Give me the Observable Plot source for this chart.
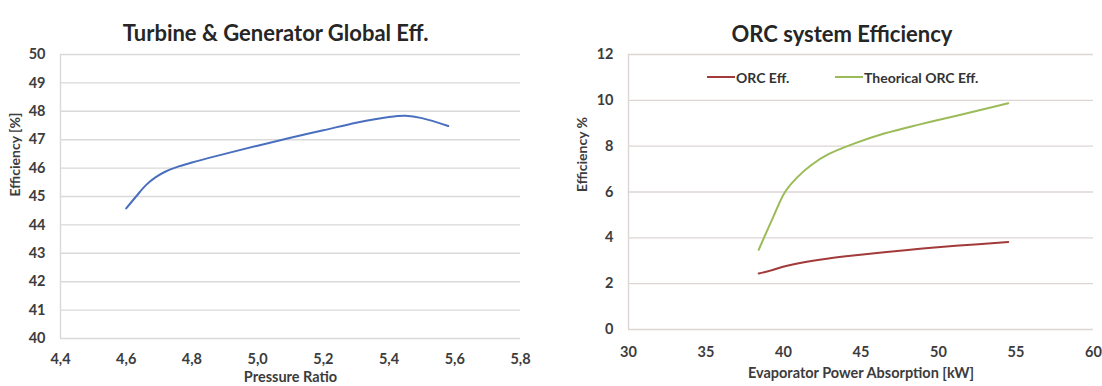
<!DOCTYPE html>
<html><head><meta charset="utf-8">
<script src="https://cdn.jsdelivr.net/npm/d3@7"></script>
<script src="https://cdn.jsdelivr.net/npm/@observablehq/plot@0.6"></script>
<style>
body{margin:0;background:#fff;font-family:Lato,sans-serif;}
#wrap{position:relative;width:1102px;height:386px;display:flex;overflow:hidden;}
.lg{position:absolute;top:69px;height:16px;display:flex;align-items:center;font:bold 14px Lato,sans-serif;color:#333;}
.lg span.sw{display:inline-block;width:28px;height:2px;margin-right:1px;}
</style></head><body><div id="wrap"></div>
<script>
// Left chart: Turbine & Generator Global Eff.
const pressureRatio = [4.60, 4.63, 4.66, 4.69, 4.72, 4.76, 4.80, 4.90, 5.00, 5.10, 5.20, 5.30, 5.40, 5.45, 5.50, 5.58];
const turbineEff    = [44.58, 45.00, 45.40, 45.68, 45.88, 46.06, 46.20, 46.50, 46.79, 47.07, 47.33, 47.60, 47.80, 47.84, 47.76, 47.48];
const leftXTicks = [4.4, 4.6, 4.8, 5.0, 5.2, 5.4, 5.6, 5.8];
const leftYTicks = [40, 41, 42, 43, 44, 45, 46, 47, 48, 49, 50];

// Right chart: ORC system Efficiency
const evapPower    = [38.4, 39.3, 40.1, 40.9, 41.8, 42.9, 44.5, 46.5, 48.8, 51.1, 54.5];
const orcEff       = [2.44, 2.60, 2.76, 2.88, 2.99, 3.10, 3.23, 3.37, 3.52, 3.65, 3.82];
const theoricalEff = [3.48, 4.85, 6.00, 6.65, 7.18, 7.65, 8.10, 8.55, 8.95, 9.32, 9.87];
const seriesNames  = ["ORC Eff.", "Theorical ORC Eff."];
const seriesColors = ["#a23a3a", "#9bbb59"];
const rightXTicks = [30, 35, 40, 45, 50, 55, 60];
const rightYTicks = [0, 2, 4, 6, 8, 10, 12];

const titles = ["Turbine & Generator Global Eff.", "ORC system Efficiency"];
const xLabels = ["Pressure Ratio", "Evaporator Power Absorption [kW]"];
const yLabels = ["Efficiency [%]", "Efficiency %"];

const wrap = document.getElementById("wrap");
const baseStyle = {fontFamily: "Lato, sans-serif", fontWeight: "bold", fontSize: "14.5px", color: "#3c3c3c", background: "white", overflow: "visible"};
const comma = d => d.toFixed(1).replace(".", ",");

const leftData = pressureRatio.map((x, i) => ({x, y: turbineEff[i]}));
const left = Plot.plot({
  width: 551, height: 386,
  marginLeft: 60, marginRight: 31, marginTop: 54, marginBottom: 48,
  style: baseStyle,
  x: {domain: [4.4, 5.8], ticks: leftXTicks, tickFormat: comma, tickSize: 0, tickPadding: 15, label: null},
  y: {domain: [40, 50], ticks: leftYTicks, tickSize: 0, tickPadding: 15, label: null},
  marks: [
    Plot.gridY(leftYTicks, {stroke: "#d9d9d9", strokeOpacity: 1, strokeWidth: 1.4}),
    Plot.ruleX([4.4], {stroke: "#d9d9d9", strokeWidth: 1.4}),
    Plot.line(leftData, {x: "x", y: "y", stroke: "#4a6fbf", strokeWidth: 2, curve: "catmull-rom"}),
    Plot.text([titles[0]], {frameAnchor: "top", dy: -29, dx: -15, fontSize: 22, fontWeight: "bold", fill: "#262626"}),
    Plot.text([xLabels[0]], {frameAnchor: "bottom", dy: 43, fontSize: 14.5, fontWeight: "bold", fill: "#3c3c3c"}),
    Plot.text([yLabels[0]], {frameAnchor: "left", dx: -45, rotate: -90, fontSize: 14, fontWeight: "bold", fill: "#3c3c3c"})
  ]
});

const rightData = [];
evapPower.forEach((x, i) => {
  rightData.push({x, y: orcEff[i], s: seriesNames[0]});
});
evapPower.forEach((x, i) => {
  rightData.push({x, y: theoricalEff[i], s: seriesNames[1]});
});
const right = Plot.plot({
  width: 551, height: 386,
  marginLeft: 77, marginRight: 9, marginTop: 54, marginBottom: 57,
  style: baseStyle,
  x: {domain: [30, 60], ticks: rightXTicks, tickSize: 0, tickPadding: 17, label: null},
  y: {domain: [0, 12], ticks: rightYTicks, tickSize: 0, tickPadding: 15, label: null},
  color: {domain: seriesNames, range: seriesColors},
  marks: [
    Plot.gridY(rightYTicks, {stroke: "#ddd6d4", strokeOpacity: 1, strokeWidth: 1.4}),
    Plot.ruleX([30], {stroke: "#ddd6d4", strokeWidth: 1.4}),
    Plot.line(rightData, {x: "x", y: "y", z: "s", stroke: "s", strokeWidth: 2, curve: "catmull-rom"}),
    Plot.text([titles[1]], {frameAnchor: "top", dy: -28, dx: -19, fontSize: 22, fontWeight: "bold", fill: "#262626"}),
    Plot.text([xLabels[1]], {frameAnchor: "bottom", dy: 48, fontSize: 14.5, fontWeight: "bold", fill: "#3c3c3c"}),
    Plot.text([yLabels[1]], {frameAnchor: "left", dx: -46, rotate: -90, fontSize: 14, fontWeight: "bold", fill: "#3c3c3c"})
  ]
});

wrap.appendChild(left);
wrap.appendChild(right);

// Legend (inside right plot area)
const legendLeft = [707, 835];
seriesNames.forEach((name, i) => {
  const d = document.createElement("div");
  d.className = "lg";
  d.style.left = legendLeft[i] + "px";
  const sw = document.createElement("span");
  sw.className = "sw";
  sw.style.background = seriesColors[i];
  d.appendChild(sw);
  d.appendChild(document.createTextNode(name));
  wrap.appendChild(d);
});
</script>
</body></html>
